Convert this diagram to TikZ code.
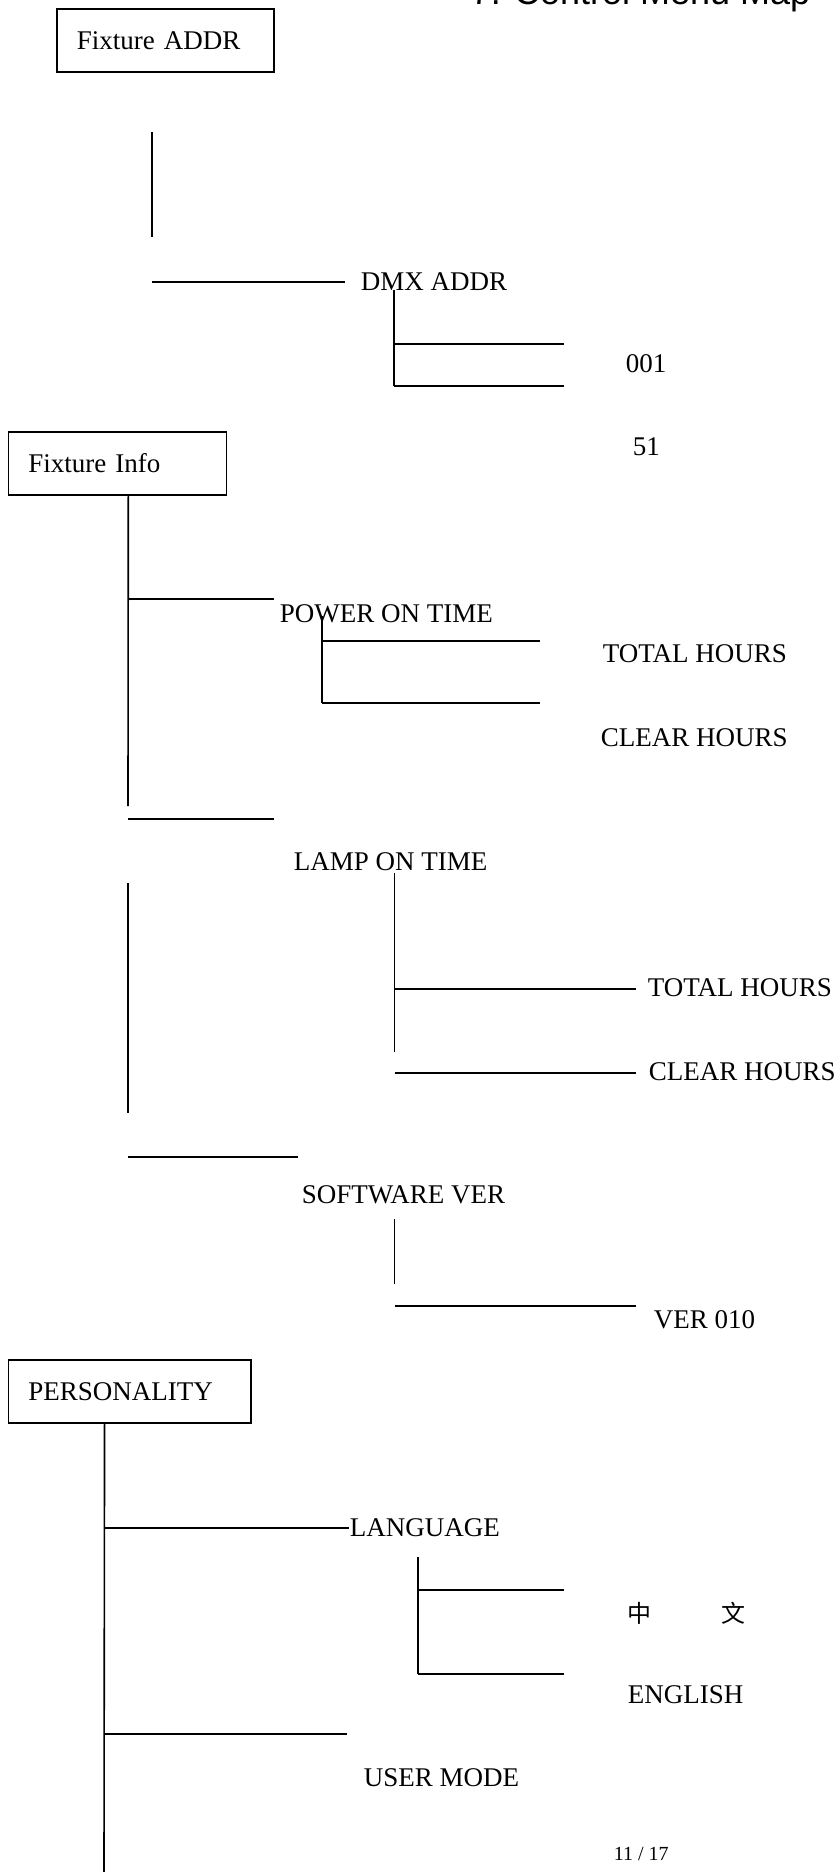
\documentclass[tikz,border=0pt]{standalone}
\usepackage{fontspec}
\setmainfont{Liberation Serif}
\newfontfamily\titlefont{Liberation Sans}
\newfontfamily\cjk{Noto Sans CJK SC}

\tikzset{
    menubox/.style = {draw, anchor=north west, align=left, inner xsep=20pt, minimum height=63pt},
    item/.style = {anchor=west, inner sep=0pt}
}

\begin{document}
\begin{tikzpicture}[x=1pt, y=-1pt, line width=1.6pt, font=\fontsize{27}{32}\selectfont]
\useasboundingbox (0,0) rectangle (835,1872);

%% title, mostly cut off by the page edge
\node[anchor=base west, inner sep=0pt, font=\titlefont\fontsize{36}{40}\selectfont] (title) at (470,4) {7. Control Menu Map};

%% Fixture ADDR
\node[menubox, text width=177pt] (fixaddr) at (56,8) {Fixture ADDR};
\draw (152,132) -- (152,237);
\draw (152,282) -- (345,282);
\node[item] (dmxaddr) at (360,282) {DMX ADDR};
\draw (394,290) -- (394,386);
\draw (394,344) -- (564,344);
\draw (394,386) -- (564,386);
\node[item] (v001) at (625,364) {001};
\node[item] (v51) at (632,447) {51};

%% Fixture Info
\node[menubox, text width=178pt] (fixinfo) at (7.5,431) {Fixture Info};
\draw ([xshift=11pt]fixinfo.south) -- (128,806);
\draw (128,599) -- (274,599);
\node[item] (pwrtime) at (279,614) {POWER ON TIME};
\draw (322,616) -- (322,703);
\draw (322,641) -- (540,641);
\draw (322,703) -- (540,703);
\node[item] (pwrtotal) at (602,654) {TOTAL HOURS};
\node[item] (pwrclear) at (600,738) {CLEAR HOURS};

\draw (128,819) -- (274,819);
\node[item] (lamptime) at (293,862) {LAMP ON TIME};
\draw (394.5,873) -- (394.5,1052);
\draw (394.5,989) -- (636,989);
\node[item] (lamptotal) at (647,988) {TOTAL HOURS};
\draw (394.5,1073) -- (636,1073);
\node[item] (lampclear) at (648,1072) {CLEAR HOURS};

\draw (128,883) -- (128,1113);
\draw (128,1157) -- (298,1157);
\node[item] (softver) at (301,1195) {SOFTWARE VER};
\draw (394.5,1219) -- (394.5,1284);
\draw (394.5,1306) -- (636,1306);
\node[item] (ver010) at (653,1320) {VER 010};

%% PERSONALITY
\node[menubox, text width=202.5pt] (personality) at (7.5,1359) {PERSONALITY};
\draw ([xshift=-25pt]personality.south) -- (104,1872);
\node[item] (lang) at (349,1528) {LANGUAGE};
\draw (104,1528) -- (lang.west);
\draw (418,1557) -- (418,1674);
\draw (418,1590) -- (564,1590);
\draw (418,1674) -- (564,1674);
\node[item, font=\cjk\fontsize{24}{28}\selectfont] (chinese) at (627,1613) {中\hspace{70pt}文};
\node[item] (english) at (627,1695) {ENGLISH};
\draw (104,1734) -- (347,1734);
\node[item] (usermode) at (363,1778) {USER MODE};

\node[item, font=\fontsize{20}{24}\selectfont] (pagenum) at (613,1854) {11 / 17};
\end{tikzpicture}
\end{document}
